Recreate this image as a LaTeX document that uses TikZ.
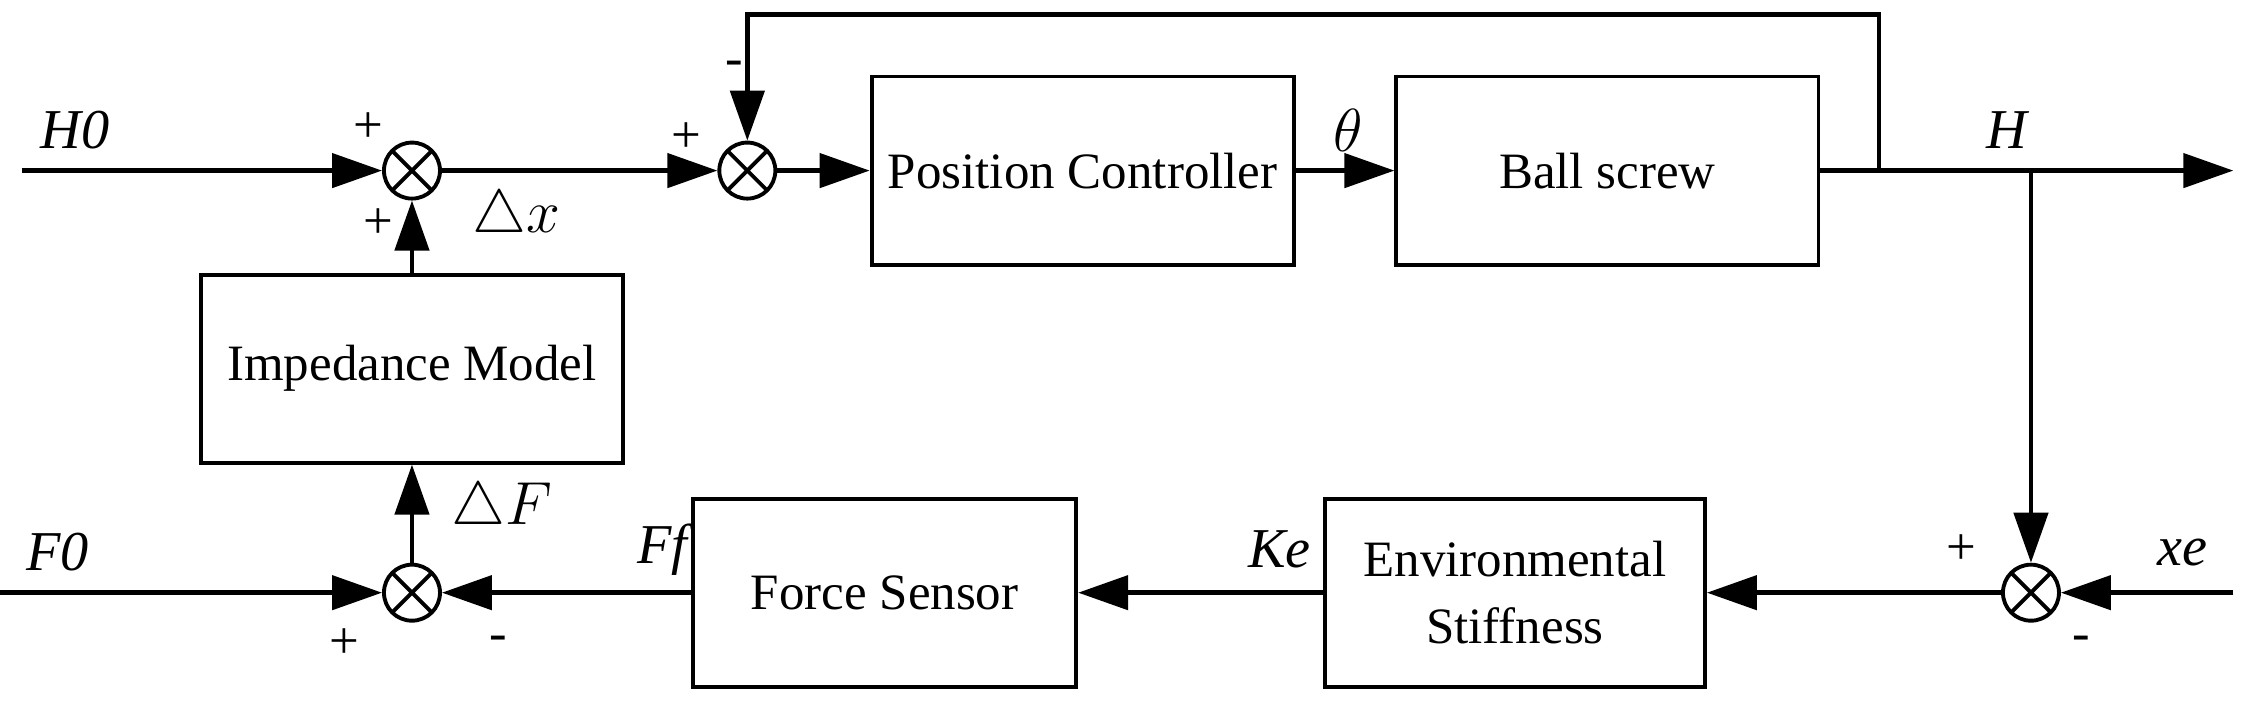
\documentclass[tikz,border=0pt]{standalone}
\usepackage{fontspec}
\setmainfont{Liberation Serif}
\usetikzlibrary{arrows.meta}
\begin{document}
\begin{tikzpicture}[x=0.014455cm,y=-0.014455cm,
  blk/.style={draw,line width=1.1pt,minimum width=4.22cm,minimum height=1.88cm,font=\fontsize{14.5}{19}\selectfont,align=center},
  sum/.style={draw,circle,line width=1.1pt,minimum size=0.56cm,inner sep=0pt,path picture={\draw[line width=1.1pt] (path picture bounding box.north west)--(path picture bounding box.south east) (path picture bounding box.north east)--(path picture bounding box.south west);}},
  ar/.style={line width=1.3pt,-{Triangle[length=0.5cm,width=0.34cm]}},
  lb/.style={font=\fontsize{16}{20}\selectfont\itshape},
  sg/.style={font=\fontsize{15}{19}\selectfont}]
\useasboundingbox (0,0) rectangle (1560,492.5);
\node[sum] (s1) at (285,118) {};
\node[sum] (s2) at (517,118) {};
\node[sum] (s3) at (1405,410) {};
\node[sum] (s4) at (285,410) {};
\node[blk] (pc) at (749,118) {Position Controller};
\node[blk] (bs) at (1112,118) {Ball screw};
\node[blk,minimum width=3.8cm] (es) at (1048,410) {Environmental\\Stiffness};
\node[blk,minimum width=3.83cm] (fs) at (612,410) {Force Sensor};
\node[blk] (im) at (285,255) {Impedance Model};
\coordinate (h0) at (15,118);
\coordinate (f0) at (0,410);
\coordinate (out) at (1545,118);
\coordinate (xe) at (1545,410);
\coordinate (fb) at (1300,118);
\coordinate (br) at (1405,118);
\draw[ar] (h0) -- (s1);
\draw[ar] (s1) -- (s2);
\draw[ar] (s2) -- (pc);
\draw[ar] (pc) -- (bs);
\draw[ar] (bs) -- (out);
\draw[ar] (fb) -- (1300,10) -| (s2);
\draw[ar] (br) -- (s3);
\draw[ar] (xe) -- (s3);
\draw[ar] (s3) -- (es);
\draw[ar] (es) -- (fs);
\draw[ar] (fs) -- (s4);
\draw[ar] (f0) -- (s4);
\draw[ar] (s4) -- (im);
\draw[ar] (im) -- (s1);
\node[lb] at (52,90) {H0};
\node[lb] at (40,382) {F0};
\node[lb] at (357,150) {$\triangle x$};
\node[lb] at (347,352) {$\triangle F$};
\node[lb] at (458,380) {Ff};
\node[lb] at (885,380) {Ke};
\node[lb] at (933,90) {$\theta$};
\node[lb] at (1388,90) {H};
\node[lb] at (1510,382) {xe};
\node[sg] at (255,88) {+};
\node[sg] at (262,155) {+};
\node[sg] at (475,95) {+};
\node[sg] at (508,47) {-};
\node[sg] at (238,445) {+};
\node[sg] at (345,445) {-};
\node[sg] at (1357,380) {+};
\node[sg] at (1440,445) {-};
\end{tikzpicture}
\end{document}
